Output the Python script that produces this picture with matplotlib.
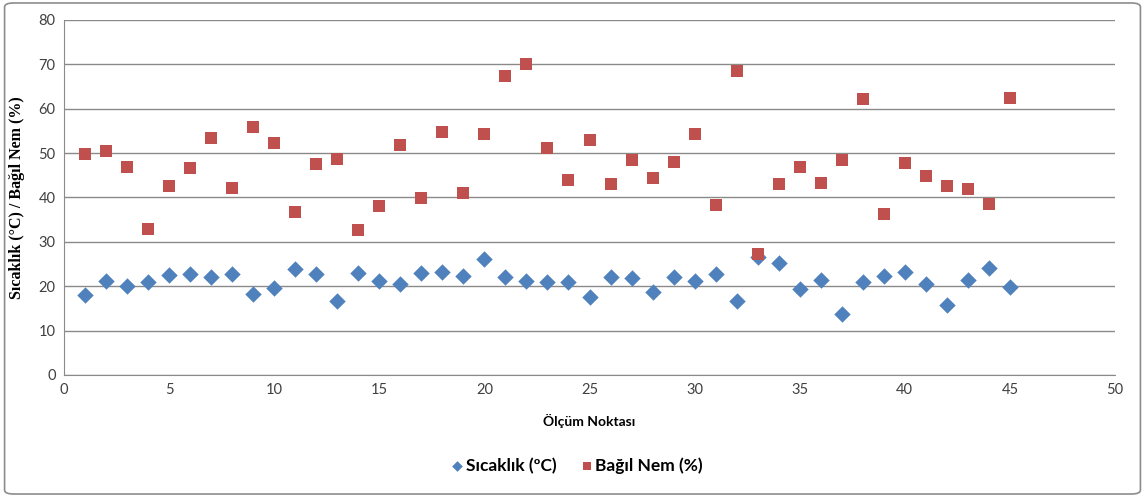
import numpy as np
import matplotlib.pyplot as plt
from matplotlib.patches import FancyBboxPatch

# ölçüm noktaları
nokta = np.arange(1, 46)

sicaklik = [18.0, 21.2, 20.1, 21.0, 22.5, 22.8, 22.1, 22.8, 18.3, 19.6,
            23.9, 22.8, 16.7, 23.0, 21.2, 20.5, 22.9, 23.3, 22.3, 26.1,
            22.0, 21.2, 20.9, 20.9, 17.6, 22.0, 21.9, 18.7, 22.1, 21.2,
            22.8, 16.7, 26.5, 25.3, 19.3, 21.4, 13.7, 20.9, 22.2, 23.2,
            20.5, 15.7, 21.3, 24.0, 19.9]

bagil_nem = [49.8, 50.5, 46.9, 32.9, 42.6, 46.6, 53.5, 42.1, 55.8, 52.2,
             36.7, 47.5, 48.7, 32.7, 38.0, 51.9, 39.8, 54.8, 41.0, 54.4,
             67.4, 70.0, 51.2, 43.9, 53.0, 43.0, 48.4, 44.3, 48.1, 54.4,
             38.4, 68.6, 27.2, 43.0, 46.9, 43.3, 48.5, 62.2, 36.3, 47.7,
             44.9, 42.7, 41.8, 38.5, 62.4]

xticks = np.arange(0, 51, 5)
yticks = np.arange(0, 81, 10)

fig = plt.figure(figsize=(11.45, 4.97), dpi=100)
ax = fig.add_axes([0.0559, 0.2455, 0.9179, 0.7143])

# dış çerçeve
fig.patches.append(FancyBboxPatch((0.004, 0.006), 0.992, 0.988,
                                  boxstyle="round,pad=0,rounding_size=0.008",
                                  transform=fig.transFigure, fill=False,
                                  edgecolor="#8c8c8c", linewidth=1.2))

ax.scatter(nokta, sicaklik, marker="D", s=70, color="#4F81BD",
           label="Sıcaklık (ºC)", zorder=3, linewidths=0)
ax.scatter(nokta, bagil_nem, marker="s", s=75, color="#C0504D",
           label="Bağıl Nem (%)", zorder=3, linewidths=0)

ax.set_xlim(0, 50)
ax.set_ylim(0, 80)
ax.set_xticks(xticks)
ax.set_yticks(yticks)
ax.grid(axis="y", color="#8a8a8a", linewidth=1)
ax.set_axisbelow(True)
for s in ["top", "right"]:
    ax.spines[s].set_visible(False)
ax.spines["left"].set_color("#8a8a8a")
ax.spines["bottom"].set_color("#8a8a8a")
ax.tick_params(length=0, labelsize=10.5, colors="#404040", pad=6)
for lab in ax.get_xticklabels() + ax.get_yticklabels():
    lab.set_family("Lato")

ax.set_xlabel("Ölçüm Noktası", family="Lato", fontweight="bold",
              fontsize=10, labelpad=12)
ax.set_ylabel("Sıcaklık (°C) / Bağıl Nem (%)", family="Liberation Serif",
              fontweight="bold", fontsize=11.5, labelpad=10)

leg = fig.legend(loc="center", bbox_to_anchor=(0.503, 0.063), ncol=2,
                 frameon=False, handletextpad=0.05, columnspacing=1.3,
                 handlelength=0.9, markerscale=0.65,
                 prop={"family": "Lato", "weight": "bold", "size": 12.5})

fig.savefig("out.png", dpi=100)
